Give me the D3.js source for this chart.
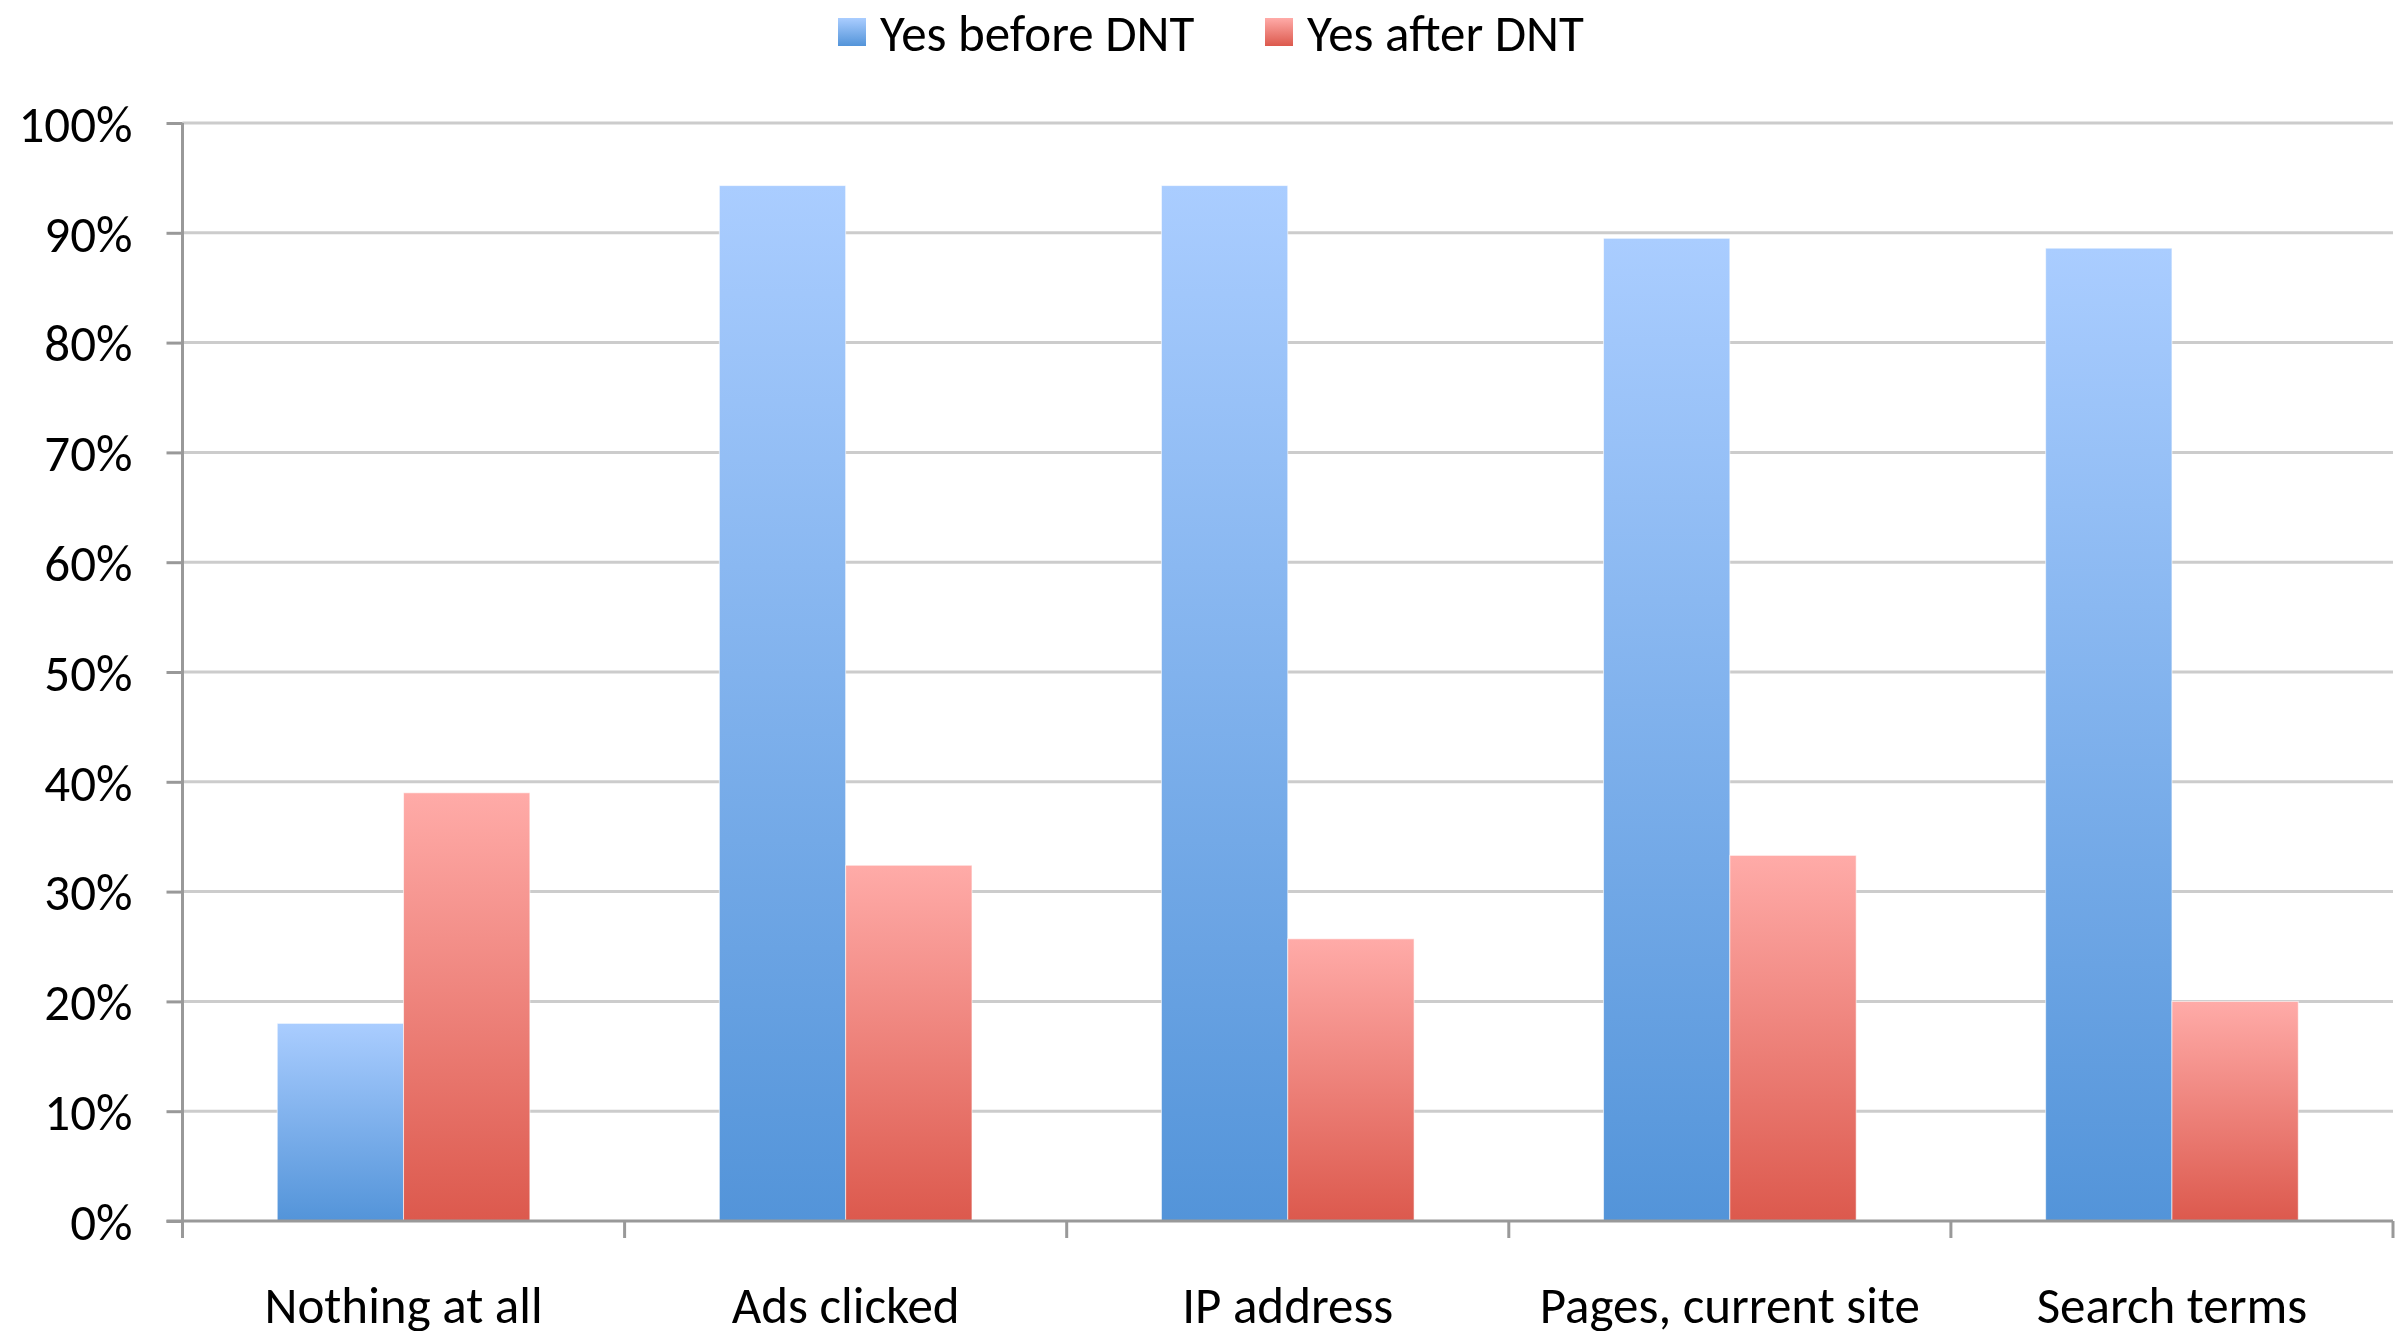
<!DOCTYPE html>
<html>
<head>
<meta charset="utf-8">
<script src="https://cdn.jsdelivr.net/npm/d3@7"></script>
<style>
  html, body { margin: 0; padding: 0; background: #ffffff; }
  svg { display: block; }
  text { font-family: Carlito, Calibri, Lato, "Open Sans", sans-serif; fill: #000; }
</style>
</head>
<body>
<svg id="chart" width="2407" height="1331"></svg>
<script>
// Survey answers: share of respondents saying "yes" per tracked item
const categories = ["Nothing at all", "Ads clicked", "IP address", "Pages, current site", "Search terms"];
const seriesNames = ["Yes before DNT", "Yes after DNT"];
const yesBefore = [18.0, 94.3, 94.3, 89.5, 88.6];
const yesAfter  = [39.0, 32.4, 25.7, 33.3, 20.0];
const yTicks = [0, 10, 20, 30, 40, 50, 60, 70, 80, 90, 100];

const rows = categories.map((c, i) => ({ category: c, values: [yesBefore[i], yesAfter[i]] }));

const plot = { left: 182.5, right: 2393, top: 123, bottom: 1221 };
const fontSize = 51;

const svg = d3.select("#chart");

// Vertical gradients, light at the top of each bar and deeper at its base
const defs = svg.append("defs");
const gradStops = [
  { id: "grad-before", top: "#aacdff", bottom: "#5394d9" },
  { id: "grad-after",  top: "#ffaba8", bottom: "#dc594d" }
];
gradStops.forEach(g => {
  const lg = defs.append("linearGradient").attr("id", g.id)
    .attr("x1", 0).attr("y1", 0).attr("x2", 0).attr("y2", 1);
  lg.append("stop").attr("offset", "0%").attr("stop-color", g.top);
  lg.append("stop").attr("offset", "100%").attr("stop-color", g.bottom);
});
const fills = ["url(#grad-before)", "url(#grad-after)"];

const x0 = d3.scaleBand().domain(categories).range([plot.left, plot.right]).padding(0);
const x1 = d3.scaleBand().domain(seriesNames).range([0, x0.bandwidth()])
  .paddingInner(0).paddingOuter(0.75);
const y = d3.scaleLinear().domain([0, 100]).range([plot.bottom, plot.top]);

// Horizontal gridlines
svg.append("g").attr("class", "grid")
  .selectAll("line").data(yTicks.filter(t => t > 0)).join("line")
  .attr("x1", plot.left).attr("x2", plot.right)
  .attr("y1", d => y(d)).attr("y2", d => y(d))
  .attr("stroke", "#cccccc").attr("stroke-width", 3);

// Bars
const groups = svg.append("g").attr("class", "bars")
  .selectAll("g").data(rows).join("g")
  .attr("transform", d => `translate(${x0(d.category)},0)`);
groups.selectAll("rect")
  .data(d => d.values.map((v, i) => ({ series: seriesNames[i], value: v, i })))
  .join("rect")
  .attr("x", d => x1(d.series))
  .attr("width", x1.bandwidth())
  .attr("y", d => y(d.value))
  .attr("height", d => y(0) - y(d.value))
  .attr("fill", d => fills[d.i])
  .attr("stroke", "rgba(255,255,255,0.6)")
  .attr("stroke-width", 1);

// Y axis
const yAxis = d3.axisLeft(y).tickValues(yTicks).tickSize(16).tickPadding(34)
  .tickFormat(d => d + "%");
const yg = svg.append("g").attr("transform", `translate(${plot.left},0)`).call(yAxis);
yg.select(".domain").attr("stroke", "#999999").attr("stroke-width", 3)
  .attr("d", `M0,${plot.top}V${plot.bottom}`);
yg.selectAll(".tick line").attr("stroke", "#999999").attr("stroke-width", 3);
yg.selectAll(".tick text").attr("font-size", fontSize)
  .attr("font-family", "Carlito, Calibri, Lato, sans-serif").attr("dy", "0.36em");

// X axis: baseline with ticks at category boundaries, labels centred below each group
const bounds = categories.map(c => x0(c)).concat([x0(categories[categories.length - 1]) + x0.bandwidth()]);
const xg = svg.append("g").attr("class", "x-axis");
xg.append("line")
  .attr("x1", plot.left - 16).attr("x2", plot.right)
  .attr("y1", y(0)).attr("y2", y(0))
  .attr("stroke", "#999999").attr("stroke-width", 3);
xg.selectAll("line.bt").data(bounds).join("line").attr("class", "bt")
  .attr("x1", d => d).attr("x2", d => d)
  .attr("y1", y(0)).attr("y2", y(0) + 17)
  .attr("stroke", "#999999").attr("stroke-width", 3);
xg.selectAll("text").data(categories).join("text")
  .attr("x", d => x0(d) + x0.bandwidth() / 2)
  .attr("y", 1323)
  .attr("text-anchor", "middle")
  .attr("font-size", fontSize)
  .text(d => d);

// Legend
const legendItems = [
  { name: seriesNames[0], fill: fills[0], x: 838 },
  { name: seriesNames[1], fill: fills[1], x: 1265 }
];
const lg = svg.append("g").attr("class", "legend");
const li = lg.selectAll("g").data(legendItems).join("g")
  .attr("transform", d => `translate(${d.x},0)`);
li.append("rect").attr("x", 0).attr("y", 18).attr("width", 28).attr("height", 28)
  .attr("fill", d => d.fill);
li.append("text").attr("x", 42).attr("y", 51).attr("font-size", fontSize)
  .text(d => d.name);
</script>
</body>
</html>
